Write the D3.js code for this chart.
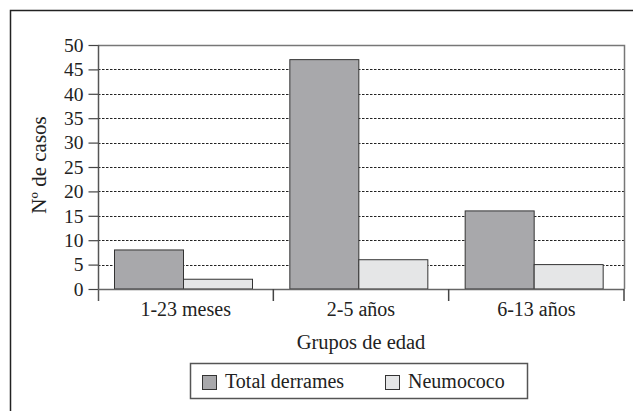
<!DOCTYPE html>
<html>
<head>
<meta charset="utf-8">
<script src="https://cdn.jsdelivr.net/npm/d3@7"></script>
<style>
  html, body { margin: 0; padding: 0; background: #fff; }
  svg { display: block; font-family: "Liberation Serif", "DejaVu Serif", serif; }
</style>
</head>
<body>
<svg id="chart" width="633" height="411"></svg>
<script>
// Age groups and case counts
const categories = ["1-23 meses", "2-5 años", "6-13 años"];
const seriesNames = ["Total derrames", "Neumococo"];
const totalDerrames = [8, 47, 16];
const neumococo = [2, 6, 5];
const yTicks = [0, 5, 10, 15, 20, 25, 30, 35, 40, 45, 50];
const seriesColors = ["#a8a8ab", "#e5e6e7"];

const values = [totalDerrames, neumococo];
const rows = categories.map((c, i) => ({
  cat: c,
  vals: seriesNames.map((s, j) => ({ series: s, value: values[j][i], color: seriesColors[j] }))
}));

const svg = d3.select("#chart");
const plotLeft = 98, plotRight = 624, plotTop = 45, plotBottom = 289;
const fontFamily = "Liberation Serif, DejaVu Serif, serif";

const x = d3.scaleBand().domain(categories).range([plotLeft, plotRight]).padding(0);
const xInner = d3.scaleBand().domain(seriesNames).range([16, 154]).padding(0);
const y = d3.scaleLinear().domain([0, 50]).range([plotBottom, plotTop]);

// outer frame (top and left edges)
svg.append("path")
  .attr("d", `M10.5,411 V10.5 H633`)
  .attr("fill", "none").attr("stroke", "#222").attr("stroke-width", 1.5);

// dashed gridlines
svg.append("g").selectAll("line")
  .data(yTicks.filter(t => t > 0 && t < 50))
  .join("line")
  .attr("x1", plotLeft).attr("x2", plotRight)
  .attr("y1", d => Math.round(y(d)) + 0.5).attr("y2", d => Math.round(y(d)) + 0.5)
  .attr("stroke", "#222").attr("stroke-width", 1)
  .attr("stroke-dasharray", "2.5,1.5");

// plot border: top and right edges
svg.append("path")
  .attr("d", `M${plotLeft},${Math.round(y(50)) + 0.5} H${plotRight + 0.5} V${plotBottom}`)
  .attr("fill", "none").attr("stroke", "#777").attr("stroke-width", 1.5);

// bars
const groups = svg.append("g").selectAll("g")
  .data(rows).join("g")
  .attr("transform", d => `translate(${x(d.cat)},0)`);
groups.selectAll("rect")
  .data(d => d.vals).join("rect")
  .attr("x", d => xInner(d.series) + 0.5)
  .attr("width", xInner.bandwidth())
  .attr("y", d => y(d.value))
  .attr("height", d => y(0) - y(d.value))
  .attr("fill", d => d.color)
  .attr("stroke", "#333").attr("stroke-width", 1);

// y axis
const yAxis = svg.append("g")
  .attr("transform", `translate(${plotLeft + 0.5},0)`)
  .call(d3.axisLeft(y).tickValues(yTicks).tickSize(10).tickPadding(5).tickSizeOuter(0));
yAxis.select(".domain").remove();
yAxis.append("line").attr("x1", 0).attr("x2", 0).attr("y1", plotTop).attr("y2", plotBottom + 12)
  .attr("stroke", "#555").attr("stroke-width", 1.5);
yAxis.selectAll(".tick line").attr("stroke", "#444").attr("stroke-width", 1.2);
yAxis.selectAll(".tick text")
  .attr("fill", "#222").attr("font-size", 19.5)
  .attr("font-family", fontFamily);

// x axis baseline and category boundary ticks
svg.append("line")
  .attr("x1", plotLeft).attr("x2", plotRight).attr("y1", plotBottom + 0.5).attr("y2", plotBottom + 0.5)
  .attr("stroke", "#666").attr("stroke-width", 1.5);
const bounds = categories.map(c => x(c)).concat([x(categories[categories.length - 1]) + x.bandwidth()]);
svg.append("g").selectAll("line")
  .data(bounds.slice(1)).join("line")
  .attr("x1", d => d).attr("x2", d => d)
  .attr("y1", plotBottom).attr("y2", plotBottom + 12)
  .attr("stroke", "#444").attr("stroke-width", 1.5);

// category labels
svg.append("g").selectAll("text")
  .data(categories).join("text")
  .attr("x", d => x(d) + x.bandwidth() / 2)
  .attr("y", 316)
  .attr("text-anchor", "middle")
  .attr("font-size", 20).attr("fill", "#222")
  .text(d => d);

// axis titles
svg.append("text")
  .attr("x", 361).attr("y", 349)
  .attr("text-anchor", "middle")
  .attr("font-size", 20.5).attr("fill", "#222")
  .text("Grupos de edad");
svg.append("text")
  .attr("transform", "translate(46,165) rotate(-90)")
  .attr("text-anchor", "middle")
  .attr("font-size", 21).attr("fill", "#222")
  .text("Nº de casos");

// legend
const legend = svg.append("g");
legend.append("rect")
  .attr("x", 190.5).attr("y", 363.5).attr("width", 337).attr("height", 35)
  .attr("fill", "#fff").attr("stroke", "#555").attr("stroke-width", 1.5);
const legendX = [202, 385];
const items = legend.selectAll("g.item")
  .data(seriesNames).join("g").attr("class", "item")
  .attr("transform", (d, i) => `translate(${legendX[i]},0)`);
items.append("rect")
  .attr("x", 0.5).attr("y", 375.5).attr("width", 14).attr("height", 14)
  .attr("fill", (d, i) => seriesColors[i]).attr("stroke", "#333").attr("stroke-width", 1);
items.append("text")
  .attr("x", 23).attr("y", 388)
  .attr("font-size", 20).attr("fill", "#222")
  .text(d => d);
</script>
</body>
</html>
